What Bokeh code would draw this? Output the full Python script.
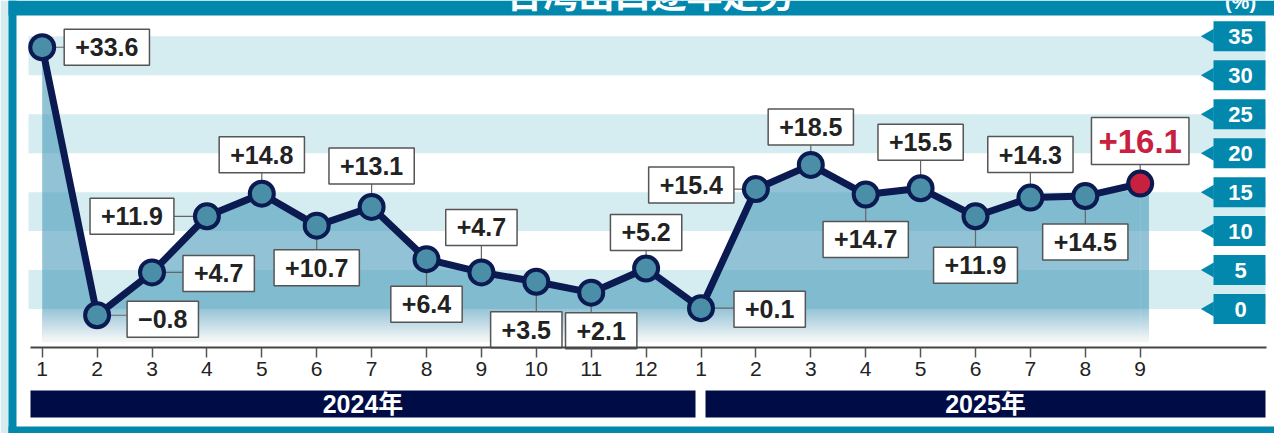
from bokeh.plotting import figure
from bokeh.models import Range1d, FixedTicker, LinearAxis, ColumnDataSource
from bokeh.core.properties import value
from bokeh.embed import file_html
from bokeh.resources import INLINE
import numpy as np

# ---------------- data ----------------
title = "台湾出口逐年走势"
unit = "(%)"
months = ["1", "2", "3", "4", "5", "6", "7", "8", "9", "10", "11", "12",
          "1", "2", "3", "4", "5", "6", "7", "8", "9"]
years = ["2024年", "2025年"]
growth = [33.6, -0.8, 4.7, 11.9, 14.8, 10.7, 13.1, 6.4, 4.7, 3.5, 2.1, 5.2,
          0.1, 15.4, 18.5, 14.7, 15.5, 11.9, 14.3, 14.5, 16.1]
y_ticks = [0, 5, 10, 15, 20, 25, 30, 35]

# label placement (style): direction, gap in px from point centre, extra px shifts
place = ["r", "r", "r", "l", "a", "b", "a", "b", "a", "b", "b", "a",
         "r", "l", "a", "b", "a", "b", "a", "b", "a"]
gaps = [22, 30, 31, 33, 21, 24, 23, 27, 27, 30, 20, 18,
        33, 22, 20, 27, 28, 31, 25, 28, 19]
dxs = [0, 0, 0, 0, 0, 0, 0, 0, 0, -10, 10, 0, 0, 0, 0, 0, 0, 0, 0, 0, 0]
dys = [0, 4, 1, 0, 0, 0, 0, 0, 0, 0, 0, 0, 1, -4, 0, 0, 0, 0, 0, 0, 0]

# ---------------- layout helpers ----------------
W, H = 1274, 433
X0, XS = 41.7, 54.9     # px of first month, px per month
Y0, YS = 308.5, 7.79    # px of value 0, px per unit


def dx(px):
    return (px - X0) / XS


def dy(py):
    return (Y0 - py) / YS


TEAL = "#0388ad"
NAVY = "#0b1a50"
BAR = "#000c45"
BAND = "#d5edf0"
RED = "#c8203f"
FONT = "Liberation Sans, Noto Sans CJK SC"

idx = list(range(len(growth)))
labels = [("+" if v >= 0 else "\u2212") + f"{abs(v):.1f}" for v in growth]

p = figure(width=W, height=H, x_range=Range1d(dx(0), dx(W)),
           y_range=Range1d(dy(H), dy(0)), output_backend="svg",
           toolbar_location=None, min_border=0,
           x_axis_location=None, y_axis_location=None)
p.outline_line_color = None
p.background_fill_color = "white"
p.border_fill_color = "white"
p.grid.visible = False

# frame
p.quad(left=dx(0), right=dx(8), bottom=dy(H), top=dy(0), fill_color=BAND, line_color=None)
p.quad(left=dx(8), right=dx(16), bottom=dy(H), top=dy(0), fill_color=TEAL, line_color=None)
p.quad(left=dx(8), right=dx(W), bottom=dy(15), top=dy(0), fill_color=TEAL, line_color=None)
p.quad(left=dx(8), right=dx(W), bottom=dy(H), top=dy(426), fill_color=TEAL, line_color=None)
p.text(x=[dx(650)], y=[dy(17)], text=[title], anchor="bottom_center",
       text_font=value("Noto Sans CJK SC"), text_font_size="36px",
       text_font_style="bold", text_color="white")
p.text(x=[dx(1240)], y=[dy(12)], text=[unit], anchor="bottom_center",
       text_font=value(FONT), text_font_size="20px",
       text_font_style="bold", text_color="white")

# bands
band_lo = y_ticks[::2]
p.quad(left=dx(28), right=dx(1265), bottom=band_lo, top=[b + 5 for b in band_lo],
       fill_color=BAND, line_color=None)

# area
floor = dy(341)
p.varea(x=idx, y1=floor, y2=growth, fill_color="#4e9dbb", fill_alpha=0.62)
p.quad(left=idx[-1], right=idx[-1] + 0.16, bottom=floor, top=growth[-1],
       fill_color="#4e9dbb", fill_alpha=0.62, line_color=None)
# white fade at the foot of the area (nested veils -> smooth gradient)
a = 0.08
g_top = 0.4
fk = 1 - (1 - a) ** np.arange(1, 45)
tops = g_top + fk * (floor - g_top)
p.quad(left=idx[0], right=idx[-1] + 0.16, top=tops, bottom=floor - 0.05,
       fill_color="white", fill_alpha=a, line_color=None)

# axis
ax = LinearAxis(fixed_location=dy(347), bounds=(dx(30), dx(1266)),
                ticker=FixedTicker(ticks=idx),
                major_label_overrides={i: m for i, m in enumerate(months)})
ax.axis_line_color = "#444444"
ax.axis_line_width = 2
ax.major_tick_line_color = "#555555"
ax.major_tick_line_width = 1.5
ax.major_tick_in = 0
ax.major_tick_out = 10
ax.minor_tick_line_color = None
ax.major_label_text_font = FONT
ax.major_label_text_font_size = "21px"
ax.major_label_text_color = "#222222"
ax.major_label_standoff = 4
p.add_layout(ax, "below")

# year bars
yl = [dx(30), dx(705)]
yr = [dx(695), dx(1265)]
p.quad(left=yl, right=yr, bottom=dy(417), top=dy(390), fill_color=BAR, line_color=None)
p.text(x=[(a_ + b_) / 2 for a_, b_ in zip(yl, yr)], y=dy(403.5), text=years, anchor="center",
       text_font=value(FONT), text_font_size="25px", text_font_style="bold",
       text_color="white")

# right value boxes
p.scatter(x=dx(1209), y=y_ticks, marker="triangle", size=15, angle=np.pi / 2,
          fill_color=TEAL, line_color=None)
p.rect(x=dx(1239), y=y_ticks, width=52, height=30, width_units="screen",
       height_units="screen", fill_color=TEAL, line_color=None)
p.text(x=dx(1240), y=y_ticks, text=[str(t) for t in y_ticks], anchor="center",
       text_font=value(FONT), text_font_size="22px", text_font_style="bold",
       text_color="white")

# leaders
x0s, y0s, x1s, y1s = [], [], [], []
for i, v in enumerate(growth):
    d, g = place[i], gaps[i]
    x0s.append(i)
    y0s.append(v)
    if d == "a":
        x1s.append(i); y1s.append(v + g / YS)
    elif d == "b":
        x1s.append(i); y1s.append(v - g / YS)
    elif d == "r":
        x1s.append(i + g / XS); y1s.append(v)
    else:
        x1s.append(i - g / XS); y1s.append(v)
p.segment(x0=x0s, y0=y0s, x1=x1s, y1=y1s, line_color="#666666", line_width=1.2)

# line & markers
p.line(idx, growth, line_color=NAVY, line_width=7, line_join="round")
p.scatter(idx[:-1], growth[:-1], size=24, fill_color="#4a8ea8", line_color=NAVY, line_width=4)
p.scatter(idx[-1:], growth[-1:], size=24, fill_color=RED, line_color=NAVY, line_width=4)

# value labels
anchors = {"a": "bottom_center", "b": "top_center", "r": "center_left", "l": "center_right"}
for d, anc in anchors.items():
    sel = [i for i in range(len(growth) - 1) if place[i] == d]
    if not sel:
        continue
    xo = [(gaps[i] if d == "r" else (-gaps[i] if d == "l" else 0)) + dxs[i] for i in sel]
    yo = [(-gaps[i] if d == "a" else (gaps[i] if d == "b" else 0)) + dys[i] for i in sel]
    src = ColumnDataSource(dict(x=[idx[i] for i in sel], y=[growth[i] for i in sel],
                                t=[labels[i] for i in sel], xo=xo, yo=yo))
    p.text(x="x", y="y", text="t", x_offset="xo", y_offset="yo", source=src, anchor=anc,
           text_font=value(FONT), text_font_size="25px", text_font_style="bold",
           text_color="#222222", background_fill_color="white",
           border_line_color="#555555", border_line_width=1.5,
           padding=dict(left=11, right=11, top=9, bottom=9))

last = len(growth) - 1
p.text(x=[idx[last]], y=[growth[last]], text=[labels[last]], x_offset=0,
       y_offset=-gaps[last], anchor="bottom_center",
       text_font=value(FONT), text_font_size="33px", text_font_style="bold",
       text_color=RED, background_fill_color="white",
       border_line_color="#555555", border_line_width=1.5,
       padding=dict(left=7, right=7, top=12, bottom=12))

open("out.html", "w").write(file_html(p, INLINE))
